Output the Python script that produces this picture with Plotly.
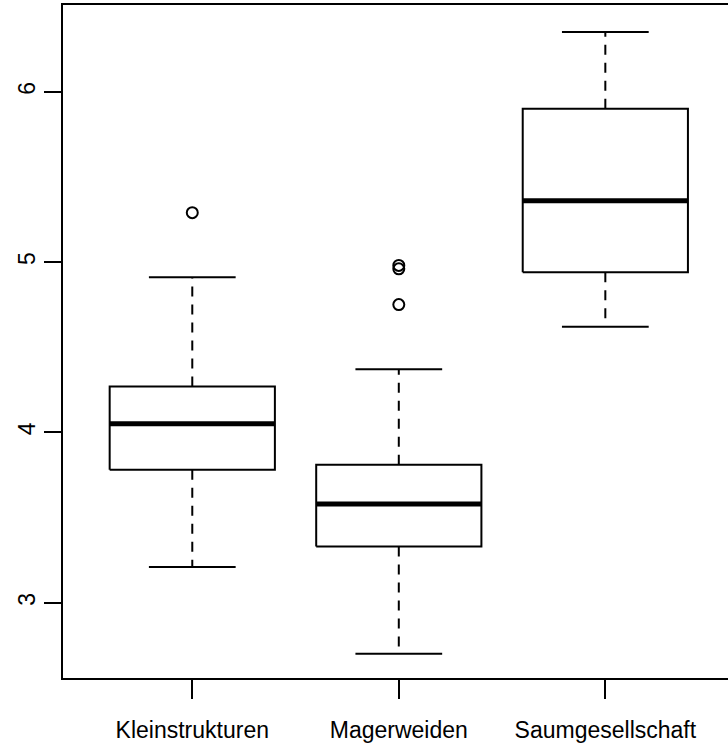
import plotly.graph_objects as go

# ---- data ----
categories = ["Kleinstrukturen", "Magerweiden", "Saumgesellschaft"]
lower_whisker = [3.21, 2.70, 4.62]
q1 = [3.78, 3.33, 4.94]
median = [4.05, 3.58, 5.36]
q3 = [4.27, 3.81, 5.90]
upper_whisker = [4.91, 4.37, 6.35]
outlier_group = ["Kleinstrukturen", "Magerweiden", "Magerweiden", "Magerweiden"]
outlier_value = [5.29, 4.98, 4.96, 4.75]
y_ticks = [3, 4, 5, 6]

BOX_HALF = 0.4
STAPLE_HALF = 0.21
BLACK = "black"

fig = go.Figure()

for i, cat in enumerate(categories):
    c = i + 1
    # whiskers (dashed)
    fig.add_trace(go.Scatter(
        x=[c, c, None, c, c],
        y=[q3[i], upper_whisker[i], None, q1[i], lower_whisker[i]],
        mode="lines", line=dict(color=BLACK, width=2, dash="10px,8px"),
        hoverinfo="skip", showlegend=False))
    # staples
    fig.add_trace(go.Scatter(
        x=[c - STAPLE_HALF, c + STAPLE_HALF, None, c - STAPLE_HALF, c + STAPLE_HALF],
        y=[upper_whisker[i], upper_whisker[i], None, lower_whisker[i], lower_whisker[i]],
        mode="lines", line=dict(color=BLACK, width=2),
        hoverinfo="skip", showlegend=False))
    # box
    fig.add_trace(go.Scatter(
        x=[c - BOX_HALF, c + BOX_HALF, c + BOX_HALF, c - BOX_HALF, c - BOX_HALF],
        y=[q1[i], q1[i], q3[i], q3[i], q1[i]],
        mode="lines", line=dict(color=BLACK, width=2),
        fill="toself", fillcolor="rgba(255,255,255,0)",
        name=cat, showlegend=False))
    # median
    fig.add_trace(go.Scatter(
        x=[c - BOX_HALF, c + BOX_HALF],
        y=[median[i], median[i]],
        mode="lines", line=dict(color=BLACK, width=5),
        hoverinfo="skip", showlegend=False))

# outliers
fig.add_trace(go.Scatter(
    x=[categories.index(g) + 1 for g in outlier_group],
    y=outlier_value,
    mode="markers",
    marker=dict(symbol="circle-open", size=11, color=BLACK, line=dict(width=2, color=BLACK)),
    showlegend=False))

font = dict(family="Liberation Sans, Arial, sans-serif", size=23, color=BLACK)

fig.update_layout(
    width=728, height=745,
    margin=dict(l=63, r=0, t=5, b=67),
    paper_bgcolor="white", plot_bgcolor="white",
    font=font,
    showlegend=False,
    xaxis=dict(
        range=[0.374, 3.594],
        tickmode="array", tickvals=[1, 2, 3], ticktext=categories,
        ticks="outside", ticklen=19, tickwidth=2, tickcolor=BLACK,
        ticklabelstandoff=11,
        showline=True, linewidth=2, linecolor=BLACK, mirror=True,
        showgrid=False, zeroline=False, tickfont=font,
    ),
    yaxis=dict(
        range=[2.558, 6.509],
        tickmode="array", tickvals=y_ticks, ticktext=[str(t) for t in y_ticks],
        ticks="outside", ticklen=17, tickwidth=2, tickcolor=BLACK,
        tickangle=-90,
        ticklabelstandoff=0,
        showline=True, linewidth=2, linecolor=BLACK,
        showgrid=False, zeroline=False, tickfont=font,
    ),
)

fig.write_html("out.html", config={"displayModeBar": False},
               post_script="document.body.style.margin='0';")
